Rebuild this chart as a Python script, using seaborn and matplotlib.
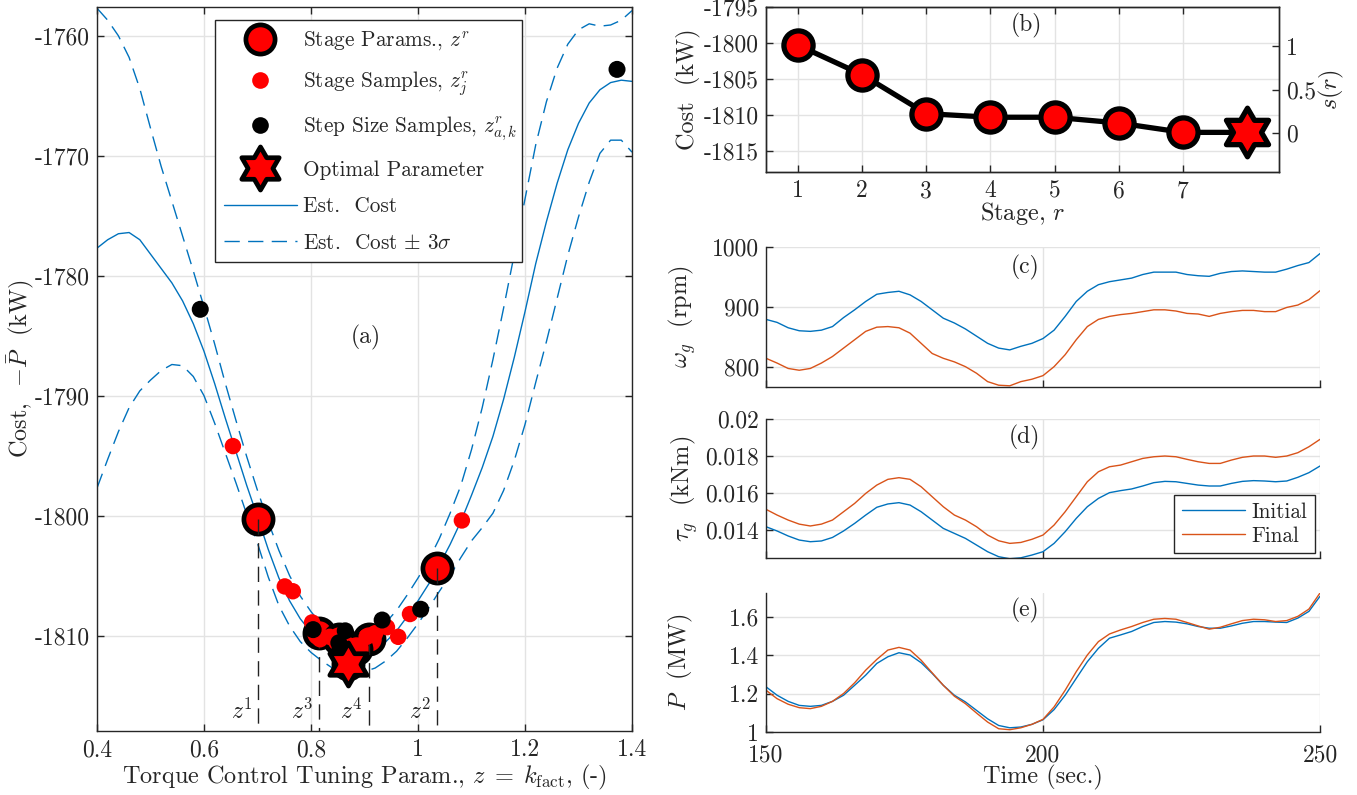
import numpy as np
import matplotlib
matplotlib.use("Agg")
import matplotlib.pyplot as plt
from matplotlib.path import Path
from matplotlib.lines import Line2D
from matplotlib.ticker import FuncFormatter
import seaborn as sns

# ---------------- data ----------------
# (a) Gaussian-process estimate of the cost over the tuning parameter
z_grid = [0.40, 0.42, 0.44, 0.46, 0.48, 0.50, 0.52, 0.54, 0.56, 0.58,
          0.60, 0.62, 0.64, 0.66, 0.68, 0.70, 0.72, 0.74, 0.76, 0.78,
          0.80, 0.82, 0.84, 0.86, 0.88, 0.90, 0.92, 0.94, 0.96, 0.98,
          1.00, 1.02, 1.04, 1.06, 1.08, 1.10, 1.12, 1.14, 1.16, 1.18,
          1.20, 1.22, 1.24, 1.26, 1.28, 1.30, 1.32, 1.34, 1.36, 1.38, 1.40]
est_cost = [-1777.7, -1777.0, -1776.5, -1776.4, -1777.0, -1778.2, -1779.4, -1780.6, -1782.1, -1784.0,
            -1786.3, -1789.0, -1791.9, -1794.7, -1797.5, -1800.1, -1802.8, -1805.2, -1807.1, -1808.6,
            -1809.7, -1810.6, -1811.3, -1811.7, -1811.8, -1811.6, -1811.2, -1810.5, -1809.6, -1808.4,
            -1807.1, -1805.7, -1804.1, -1802.4, -1800.5, -1798.3, -1796.0, -1793.4, -1790.3, -1786.8,
            -1783.0, -1779.0, -1775.5, -1772.3, -1769.5, -1767.3, -1765.6, -1764.5, -1763.9, -1763.7, -1763.8]
est_3sigma = [20.0, 18.3, 16.5, 14.6, 12.6, 10.5, 8.5, 6.8, 5.4, 4.4,
              3.7, 3.3, 2.9, 2.6, 2.4, 2.2, 2.3, 2.3, 2.1, 1.9,
              1.7, 1.5, 1.4, 1.3, 1.3, 1.4, 1.5, 1.6, 1.7, 1.8,
              1.9, 2.0, 2.2, 2.6, 3.0, 3.8, 5.0, 6.4, 7.6, 8.6,
              9.4, 9.9, 10.0, 9.6, 8.8, 7.8, 6.6, 5.3, 4.8, 5.0, 5.9]

stage_z = [0.701, 1.036, 0.815, 0.908, 0.853, 0.884, 0.870]
stage_cost = [-1800.3, -1804.4, -1809.8, -1810.3, -1810.3, -1811.1, -1812.4]
labelled_stages = [1, 2, 3, 4]

sample_z = [0.654, 0.751, 0.766, 0.802, 0.817, 0.835, 0.870, 0.892, 0.904, 0.920,
            0.942, 0.963, 0.985, 1.082]
sample_cost = [-1794.2, -1805.9, -1806.3, -1808.9, -1810.3, -1810.1, -1810.8, -1810.9, -1810.1, -1809.8,
               -1809.3, -1810.1, -1808.2, -1800.4]

step_z = [0.593, 0.804, 0.854, 0.864, 0.852, 0.933, 1.005, 1.372]
step_cost = [-1782.8, -1809.5, -1811.2, -1809.6, -1810.6, -1808.7, -1807.8, -1762.8]

opt_z = 0.870
opt_cost = -1812.4

# (b) cost per stage
stages = [1, 2, 3, 4, 5, 6, 7]
opt_stage = 8

# (c)-(e) time histories, initial vs final tuning
time_s = list(range(150, 251, 2))
omega_init = [879, 874, 865, 860, 859, 861, 867, 882, 895, 909, 921, 924, 926, 920, 909, 895, 881,
              873, 863, 851, 839, 831, 828, 834, 839, 847, 861, 884, 909, 926, 937, 942, 945, 948,
              954, 958, 958, 958, 954, 952, 951, 956, 959, 960, 959, 958, 958, 963, 969, 974, 989]
omega_final = [814, 806, 797, 794, 797, 806, 817, 831, 845, 859, 866, 867, 865, 856, 839, 822, 814,
               808, 800, 789, 775, 769, 768, 775, 779, 785, 800, 820, 845, 867, 879, 884, 887, 889,
               892, 895, 895, 893, 889, 888, 884, 889, 892, 894, 894, 892, 892, 899, 903, 912, 927]
torque_init = [0.01418, 0.01395, 0.01368, 0.01346, 0.01337, 0.01341, 0.01360, 0.01395, 0.01436,
               0.01481, 0.01523, 0.01541, 0.01548, 0.01535, 0.01499, 0.01454, 0.01409, 0.01382,
               0.01355, 0.01319, 0.01283, 0.01256, 0.01245, 0.01250, 0.01265, 0.01283, 0.01328,
               0.01391, 0.01463, 0.01526, 0.01571, 0.01602, 0.01613, 0.01622, 0.01638, 0.01656,
               0.01663, 0.01661, 0.01652, 0.01643, 0.01638, 0.01638, 0.01652, 0.01663, 0.01667,
               0.01665, 0.01661, 0.01665, 0.01685, 0.01710, 0.01746]
torque_final = [0.01512, 0.01481, 0.01454, 0.01432, 0.01422, 0.01432, 0.01454, 0.01499, 0.01544,
                0.01598, 0.01643, 0.01674, 0.01683, 0.01674, 0.01634, 0.01580, 0.01526, 0.01481,
                0.01454, 0.01418, 0.01373, 0.01342, 0.01328, 0.01333, 0.01350, 0.01373, 0.01427,
                0.01499, 0.01580, 0.01661, 0.01715, 0.01742, 0.01751, 0.01769, 0.01787, 0.01796,
                0.01800, 0.01796, 0.01782, 0.01769, 0.01760, 0.01760, 0.01778, 0.01793, 0.01800,
                0.01800, 0.01793, 0.01800, 0.01818, 0.01850, 0.01890]
power_init = [1.236, 1.192, 1.160, 1.139, 1.134, 1.139, 1.160, 1.192, 1.244, 1.297, 1.358, 1.393,
              1.414, 1.402, 1.362, 1.306, 1.244, 1.192, 1.157, 1.113, 1.069, 1.034, 1.022, 1.026,
              1.040, 1.064, 1.117, 1.192, 1.280, 1.367, 1.437, 1.490, 1.507, 1.525, 1.551, 1.572,
              1.577, 1.574, 1.565, 1.551, 1.542, 1.542, 1.554, 1.568, 1.577, 1.577, 1.574, 1.572,
              1.595, 1.630, 1.709]
power_final = [1.218, 1.174, 1.145, 1.127, 1.122, 1.134, 1.160, 1.201, 1.257, 1.323, 1.379, 1.428,
               1.442, 1.428, 1.375, 1.309, 1.244, 1.187, 1.148, 1.099, 1.052, 1.017, 1.012, 1.022,
               1.040, 1.066, 1.131, 1.218, 1.315, 1.402, 1.472, 1.512, 1.533, 1.551, 1.572, 1.589,
               1.593, 1.589, 1.572, 1.554, 1.537, 1.547, 1.565, 1.582, 1.589, 1.586, 1.577, 1.582,
               1.604, 1.642, 1.726]

# ---------------- style ----------------
sns.set_theme(style="white")
plt.rcParams.update({
    "font.family": ["cmr10", "DejaVu Serif"],
    "mathtext.fontset": "cm",
    "axes.unicode_minus": False,
    "axes.formatter.use_mathtext": False,
})

FS_TICK = 17
FS_LAB = 17.5
FS_LEG = 15.3
FS_TAG = 17
BLUE = "#0072BD"
ORANGE = "#D95319"
AXC = "#262626"
GRIDC = "#e3e3e3"
DASH = [11, 6]

# six-pointed star marker
ang_out = np.deg2rad(90 + 60 * np.arange(6))
ang_in = ang_out + np.deg2rad(30)
star_xy = []
for ao, ai in zip(ang_out, ang_in):
    star_xy.append((np.cos(ao), np.sin(ao)))
    star_xy.append((np.cos(ai) / np.sqrt(3), np.sin(ai) / np.sqrt(3)))
star_xy.append(star_xy[0])
HEXAGRAM = Path(star_xy, closed=True)

W, H = 1357, 795
fig = plt.figure(figsize=(W / 100, H / 100), dpi=100)


def px_axes(l, t, r, b):
    return fig.add_axes([l / W, 1 - b / H, (r - l) / W, (b - t) / H])


def style(ax, box=True):
    ax.grid(True, color=GRIDC, lw=1.0)
    ax.set_axisbelow(True)
    for s in ax.spines.values():
        s.set_color(AXC)
        s.set_linewidth(1.0)
    if not box:
        ax.spines["top"].set_visible(False)
        ax.spines["right"].set_visible(False)
    ax.tick_params(direction="in", length=5, width=1.0, color=AXC, labelsize=FS_TICK,
                   labelcolor=AXC, top=box, right=box, bottom=True, left=True)
    ax.tick_params(axis="x", pad=6)
    ax.tick_params(axis="y", pad=5)
    fmt = FuncFormatter(lambda v, p: "%g" % v)
    ax.xaxis.set_major_formatter(fmt)
    ax.yaxis.set_major_formatter(fmt)


def ylab(ax, text, xfrac):
    ax.set_ylabel(text, fontsize=FS_LAB, color=AXC)
    ax.yaxis.label.set_va("center")
    ax.yaxis.set_label_coords(xfrac, 0.5)


def xlab(ax, text, yfrac):
    ax.set_xlabel(text, fontsize=FS_LAB, color=AXC)
    ax.xaxis.label.set_va("center")
    ax.xaxis.set_label_coords(0.5, yfrac)


ax_a = px_axes(97, 7, 632, 731)
ax_b = px_axes(766, 7, 1279, 172)
ax_c = px_axes(766, 247, 1320, 387)
ax_d = px_axes(766, 419, 1320, 558)
ax_e = px_axes(766, 593, 1320, 732)

# ---------------- (a) ----------------
style(ax_a, box=True)
zg = np.array(z_grid)
mu = np.array(est_cost)
s3 = np.array(est_3sigma)
sns.lineplot(x=zg, y=mu, ax=ax_a, color=BLUE, lw=1.0, zorder=2)
for band in (mu + s3, mu - s3):
    sns.lineplot(x=zg, y=band, ax=ax_a, color=BLUE, lw=1.0, zorder=2)
    ax_a.lines[-1].set_dashes(DASH)

sns.scatterplot(x=stage_z, y=stage_cost, ax=ax_a, s=21 ** 2, color="red", edgecolor="black",
                linewidth=3.4, zorder=4)
for k in labelled_stages:
    zk, ck = stage_z[k - 1], stage_cost[k - 1]
    ax_a.plot([zk, zk], [ck, -1818], color="#222222", lw=1.0, dashes=DASH, zorder=5)
    ax_a.text(zk - 0.011, -1816.3, "$z^{%d}$" % k, fontsize=FS_TAG, ha="right", va="center",
              color=AXC, zorder=5)
sns.scatterplot(x=sample_z, y=sample_cost, ax=ax_a, s=140, color="red", edgecolor="none",
                linewidth=0, zorder=6)
sns.scatterplot(x=step_z, y=step_cost, ax=ax_a, s=150, color="black", edgecolor="none",
                linewidth=0, zorder=7)
sns.scatterplot(x=[opt_z], y=[opt_cost], ax=ax_a, s=31 ** 2, marker=HEXAGRAM, color="red",
                edgecolor="black", linewidth=3.4, zorder=8)

ax_a.set_xlim(0.4, 1.4)
ax_a.set_ylim(-1817.95, -1757.6)
ax_a.set_xticks([0.4, 0.6, 0.8, 1.0, 1.2, 1.4])
ax_a.set_yticks([-1810, -1800, -1790, -1780, -1770, -1760])
ax_a.text(0.503, 0.543, "(a)", transform=ax_a.transAxes, fontsize=FS_TAG, ha="center",
          va="center", color=AXC)
ylab(ax_a, r"Cost,  $-\bar{P}$  (kW)", -0.142)
xlab(ax_a, r"Torque Control Tuning Param., $z\;=\;k_{\mathrm{fact}}$, (-)", -0.0635)

handles = [
    Line2D([], [], ls="none", marker="o", ms=21, mfc="red", mec="black", mew=3.4),
    Line2D([], [], ls="none", marker="o", ms=12, mfc="red", mec="none"),
    Line2D([], [], ls="none", marker="o", ms=12, mfc="black", mec="none"),
    Line2D([], [], ls="none", marker=HEXAGRAM, ms=31, mfc="red", mec="black", mew=3.4),
    Line2D([], [], color=BLUE, lw=1.0),
    Line2D([], [], color=BLUE, lw=1.0, dashes=DASH),
]
labels = [r"Stage Params., $z^r$", r"Stage Samples, $z^r_j$",
          r"Step Size Samples, $z^r_{a,k}$", "Optimal Parameter", "Est.  Cost",
          r"Est.  Cost $\pm$ $3\sigma$"]
leg = ax_a.legend(handles, labels, loc="upper left", bbox_to_anchor=(0.22, 0.982, 0.574, 0.0),
                  mode="expand", fontsize=FS_LEG, frameon=True, fancybox=False, framealpha=1,
                  edgecolor=AXC, handlelength=3.4, handletextpad=0.3, labelspacing=0.8,
                  borderpad=0.45, borderaxespad=0.0)
leg.get_frame().set_linewidth(1.0)
leg.set_zorder(10)
for t in leg.get_texts():
    t.set_color(AXC)

# ---------------- (b) ----------------
style(ax_b, box=True)
ax_b.tick_params(right=False)
sns.lineplot(x=stages + [opt_stage], y=stage_cost + [opt_cost], ax=ax_b, color="black",
             lw=3.8, zorder=3)
sns.scatterplot(x=stages, y=stage_cost, ax=ax_b, s=21 ** 2, color="red", edgecolor="black",
                linewidth=3.8, zorder=4)
sns.scatterplot(x=[opt_stage], y=[opt_cost], ax=ax_b, s=35 ** 2, marker=HEXAGRAM, color="red",
                edgecolor="black", linewidth=3.8, zorder=5)
ax_b.set_xlim(0.5, 8.5)
ax_b.set_ylim(-1817.9, -1795)
ax_b.set_xticks(stages)
ax_b.set_yticks([-1815, -1810, -1805, -1800, -1795])
ax_b.text(0.507, 0.89, "(b)", transform=ax_b.transAxes, fontsize=FS_TAG, ha="center",
          va="center", color=AXC)
ylab(ax_b, "Cost  (kW)", -0.152)
xlab(ax_b, "Stage, $r$", -0.25)

ax_b2 = ax_b.twinx()
ax_b2.set_ylim(-0.45, 1.45)
ax_b2.set_yticks([0, 0.5, 1])
ax_b2.grid(False)
for s in ax_b2.spines.values():
    s.set_color(AXC)
    s.set_linewidth(1.0)
ax_b2.tick_params(direction="in", length=5, width=1.0, color=AXC, labelsize=FS_TICK,
                  labelcolor=AXC, right=True, left=False, pad=5)
ax_b2.yaxis.set_major_formatter(FuncFormatter(lambda v, p: "%g" % v))
ax_b2.set_ylabel("$s(r)$", fontsize=FS_LAB, color=AXC)
ax_b2.yaxis.label.set_va("center")
ax_b2.yaxis.set_label_coords(1.103, 0.5)

# ---------------- (c)-(e) ----------------
series = [
    (ax_c, omega_init, omega_final, (766, 1000), [800, 900, 1000], r"$\omega_g$  (rpm)", "(c)",
     0.857, -0.152),
    (ax_d, torque_init, torque_final, (0.01249, 0.02), [0.014, 0.016, 0.018, 0.02],
     r"$\tau_g$  (kNm)", "(d)", 0.87, -0.148),
    (ax_e, power_init, power_final, (1.0, 1.726), [1, 1.2, 1.4, 1.6], r"$P$  (MW)", "(e)",
     0.878, -0.155),
]
for ax, y_init, y_final, ylim, yt, lab, tag, ty, lx in series:
    style(ax, box=False)
    sns.lineplot(x=time_s, y=y_init, ax=ax, color=BLUE, lw=1.0, label="Initial")
    sns.lineplot(x=time_s, y=y_final, ax=ax, color=ORANGE, lw=1.0, label="Final")
    ax.set_xlim(150, 250)
    ax.set_ylim(*ylim)
    ax.set_xticks([150, 200, 250])
    ax.set_yticks(yt)
    ax.text(0.467, ty, tag, transform=ax.transAxes, fontsize=FS_TAG, ha="center", va="center",
            color=AXC)
    ylab(ax, lab, lx)
    if ax is not ax_d:
        ax.get_legend().remove()

ax_c.tick_params(labelbottom=False)
ax_d.tick_params(labelbottom=False)
ax_e.tick_params(axis="x", pad=9)
xlab(ax_e, "Time (sec.)", -0.33)

leg_d = ax_d.legend(loc="lower right", bbox_to_anchor=(0.991, 0.036), fontsize=FS_LEG,
                    frameon=True, fancybox=False, framealpha=1, edgecolor=AXC,
                    handlelength=3.0, handletextpad=0.3, labelspacing=0.2, borderpad=0.35,
                    borderaxespad=0.0)
leg_d.get_frame().set_linewidth(1.0)
for t in leg_d.get_texts():
    t.set_color(AXC)

fig.savefig("out.png", dpi=100)
